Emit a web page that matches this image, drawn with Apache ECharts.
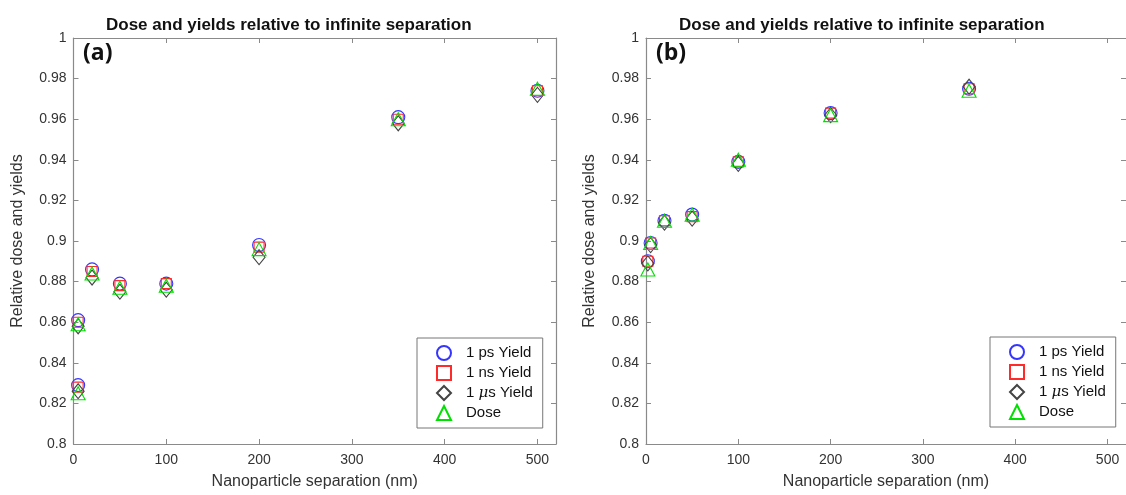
<!DOCTYPE html>
<html>
<head>
<meta charset="utf-8">
<script src="https://cdn.jsdelivr.net/npm/echarts@6/dist/echarts.min.js"></script>
<style>
  html, body { margin: 0; padding: 0; background: #fff; }
  #chart { width: 1126px; height: 495px; }
</style>
</head>
<body>
<div id="chart"></div>
<script>
// panel (a)
const sepA = [5, 5, 20, 50, 100, 200, 350, 500];
const psA = [0.861, 0.829, 0.886, 0.879, 0.879, 0.898, 0.961, 0.974];
const nsA = [0.860, 0.828, 0.885, 0.878, 0.879, 0.897, 0.960, 0.974];
const usA = [0.858, 0.826, 0.882, 0.875, 0.876, 0.892, 0.958, 0.972];
const doseA = [0.859, 0.825, 0.884, 0.877, 0.878, 0.896, 0.960, 0.975];

// panel (b)
const sepB = [2, 5, 20, 50, 100, 200, 350];
const psB = [0.890, 0.899, 0.910, 0.913, 0.939, 0.963, 0.975];
const nsB = [0.890, 0.899, 0.910, 0.912, 0.939, 0.963, 0.975];
const usB = [0.889, 0.898, 0.909, 0.911, 0.938, 0.962, 0.976];
const doseB = [0.886, 0.899, 0.910, 0.913, 0.940, 0.962, 0.974];

const xTicks = [0, 100, 200, 300, 400, 500];
const titleText = "Dose and yields relative to infinite separation";

const axisGray = "#8a8a8a";
const labelGray = "#333";
const font = "Liberation Sans, Arial, sans-serif";

const markers = [
  { name: "1 ps Yield", symbol: "circle", size: 13, color: "#3535ff" },
  { name: "1 ns Yield", symbol: "rect", size: 10, color: "#ff2a2a" },
  { name: "1 \u03bcs Yield", symbol: "diamond", size: [12, 15], color: "#444" },
  { name: "Dose", symbol: "triangle", size: [14, 13], color: "#00e000" },
];

const zip = (xs, ys) => xs.map((x, i) => [x, ys[i]]);

const makeSeries = (xs, cols, axisIdx) =>
  cols.map((ys, k) => ({
    name: markers[k].name,
    type: "scatter",
    xAxisIndex: axisIdx,
    yAxisIndex: axisIdx,
    symbol: markers[k].symbol,
    symbolSize: markers[k].size,
    itemStyle: {
      color: "rgba(0,0,0,0)",
      borderColor: markers[k].color,
      borderWidth: 1.1,
      opacity: 1,
    },
    emphasis: { disabled: true },
    z: 2 + k,
    data: zip(xs, ys),
  }));

const bottomX = (gridIndex) => ({
  type: "value",
  gridIndex,
  min: 0,
  max: 520,
  interval: 100,
  axisLine: { onZero: false, lineStyle: { color: axisGray, width: 1.2 } },
  axisTick: { inside: true, length: 5, lineStyle: { color: axisGray } },
  axisLabel: {
    color: labelGray, fontSize: 14, fontFamily: font, margin: 9,
    showMaxLabel: false,
    formatter: (v) => (xTicks.includes(v) ? String(v) : ""),
  },
  splitLine: { show: false },
  name: "Nanoparticle separation (nm)",
  nameLocation: "middle",
  nameGap: 30,
  nameTextStyle: { color: labelGray, fontSize: 16, fontFamily: font },
});

const topX = (gridIndex) => ({
  type: "value",
  gridIndex,
  position: "top",
  min: 0,
  max: 520,
  interval: 100,
  axisLine: { onZero: false, lineStyle: { color: axisGray, width: 1.2 } },
  axisTick: { inside: true, length: 5, lineStyle: { color: axisGray } },
  axisLabel: { show: false },
  splitLine: { show: false },
});

const leftY = (gridIndex) => ({
  type: "value",
  gridIndex,
  min: 0.8,
  max: 1,
  interval: 0.02,
  axisLine: { show: true, onZero: false, lineStyle: { color: axisGray, width: 1.2 } },
  axisTick: { show: true, inside: true, length: 5, lineStyle: { color: axisGray } },
  axisLabel: { color: labelGray, fontSize: 14, fontFamily: font, margin: 7 },
  splitLine: { show: false },
  name: "Relative dose and yields",
  nameLocation: "middle",
  nameGap: 48,
  nameTextStyle: { color: labelGray, fontSize: 16, fontFamily: font },
});

const rightY = (gridIndex, showLine) => ({
  type: "value",
  gridIndex,
  position: "right",
  min: 0.8,
  max: 1,
  interval: 0.02,
  axisLine: { show: showLine, onZero: false, lineStyle: { color: axisGray, width: 1.2 } },
  axisTick: { show: true, inside: true, length: 5, lineStyle: { color: axisGray } },
  axisLabel: { show: false },
  splitLine: { show: false },
});

const makeLegend = (left, top) => ({
  orient: "vertical",
  left,
  top,
  padding: [7, 10, 7, 19],
  itemGap: 4,
  itemWidth: 14,
  itemHeight: 14,
  borderColor: "#777",
  borderWidth: 1,
  backgroundColor: "#fff",
  selectedMode: false,
  data: markers.map((m) => m.name),
  formatter: (name) =>
    name.indexOf("\u03bc") >= 0 ? "{t|1 }{i|\u03bc}{r|s Yield}" : "{t|" + name + "}",
  textStyle: {
    color: "#111",
    fontSize: 15,
    fontFamily: font,
    lineHeight: 14,
    rich: {
      t: { fontSize: 15, fontFamily: font, padding: [0, 0, 0, 10], lineHeight: 14 },
      i: { fontStyle: "italic", fontSize: 15, fontFamily: "DejaVu Serif, serif", lineHeight: 14 },
      r: { fontSize: 15, fontFamily: font, lineHeight: 14 },
    },
  },
});

const panelTitle = (left, text) => ({
  text,
  left,
  top: 12,
  textStyle: { color: "#111", fontSize: 17, fontWeight: "bold", fontFamily: font },
});

const tagTitle = (left, text) => ({
  text,
  left,
  top: 37,
  textStyle: { color: "#111", fontSize: 23, fontWeight: "bold", fontFamily: "Open Sans, sans-serif" },
});

const chart = echarts.init(document.getElementById("chart"), null, { renderer: "canvas" });

chart.setOption({
  animation: false,
  backgroundColor: "#fff",
  title: [
    panelTitle(101, titleText),
    panelTitle(674, titleText),
    tagTitle(78, "(a)"),
    tagTitle(651, "(b)"),
  ],
  grid: [
    { left: 73.5, top: 38, width: 482.5, height: 406 },
    { left: 646, top: 38, right: -3, height: 406 },
  ],
  xAxis: [bottomX(0), topX(0), bottomX(1), topX(1)],
  yAxis: [leftY(0), rightY(0, true), leftY(1), rightY(1, false)],
  legend: [makeLegend(417, 338), makeLegend(990, 337)],
  series: [
    ...makeSeries(sepA, [psA, nsA, usA, doseA], 0),
    ...makeSeries(sepB, [psB, nsB, usB, doseB], 2),
  ],
});
</script>
</body>
</html>
